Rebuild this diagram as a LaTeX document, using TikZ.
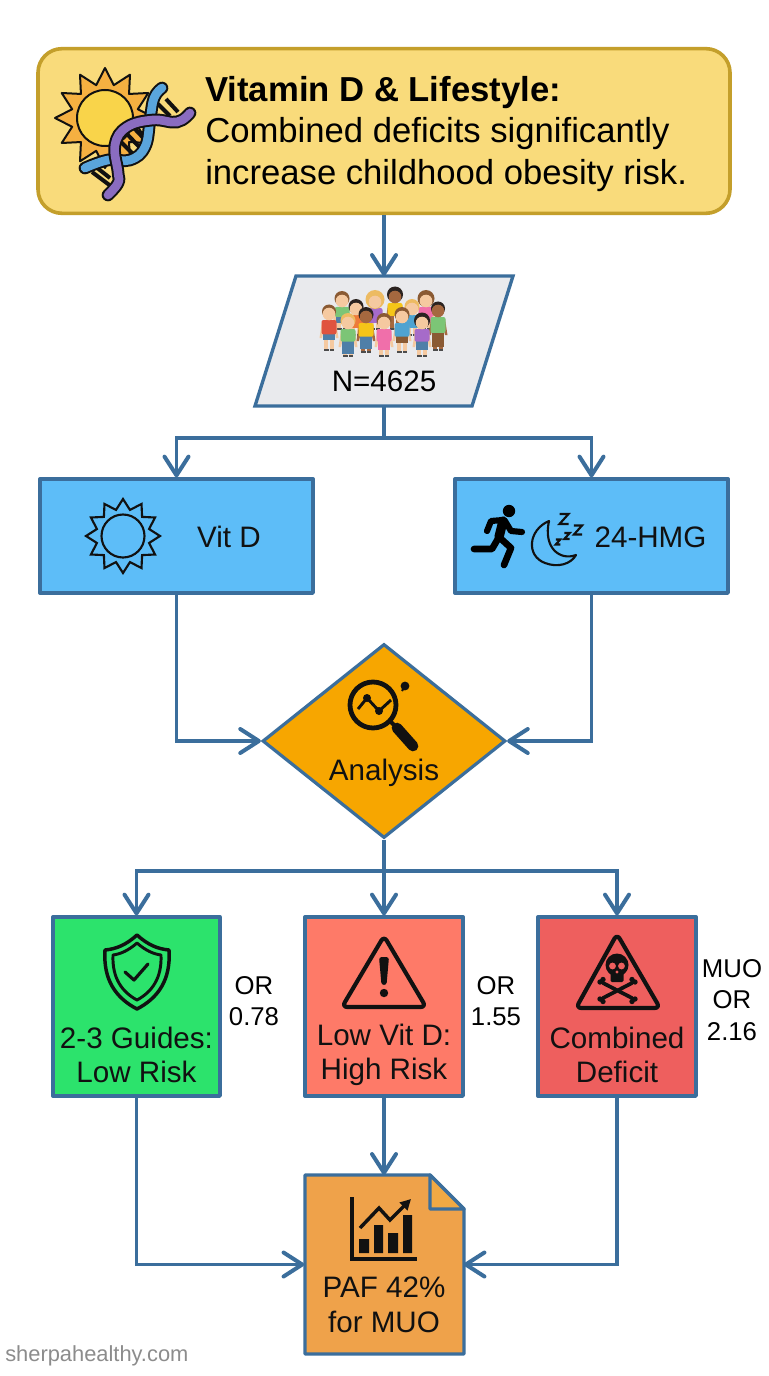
\documentclass[tikz,border=0pt]{standalone}
\usepackage{fontspec}
\setmainfont{Liberation Sans}
\usetikzlibrary{arrows.meta,shapes.geometric,calc}
\definecolor{edge}{HTML}{3B6E9C}
\definecolor{ink}{HTML}{111111}
\definecolor{titlefill}{HTML}{F9DB7B}
\definecolor{titleedge}{HTML}{C49F2B}
\definecolor{skyfill}{HTML}{5DBDF8}
\definecolor{greenbox}{HTML}{2CE36C}
\definecolor{redbox}{HTML}{FE7A68}
\definecolor{deepred}{HTML}{EE5F5E}
\definecolor{docfill}{HTML}{EFA24A}
\definecolor{amber}{HTML}{F7A600}
\definecolor{popfill}{HTML}{E9EAED}
\definecolor{sunray}{HTML}{F5B041}
\definecolor{suncore}{HTML}{F9D44A}
\definecolor{strandb}{HTML}{5AA5DC}
\definecolor{strandp}{HTML}{8A6CC0}
\definecolor{skin}{HTML}{F5C9A0}
\definecolor{skind}{HTML}{A5683F}
\definecolor{hbrown}{HTML}{8A5A33}
\definecolor{hblond}{HTML}{EDBB62}
\definecolor{hdark}{HTML}{2B2320}
\definecolor{kgreen}{HTML}{7CC576}
\definecolor{kred}{HTML}{E0533F}
\definecolor{kblue}{HTML}{4FA3D1}
\definecolor{kjean}{HTML}{4F7FA8}
\definecolor{kyellow}{HTML}{F5C518}
\definecolor{kpink}{HTML}{F06FAA}
\definecolor{kpurple}{HTML}{A66BC9}
\definecolor{korange}{HTML}{EE7B3A}
\tikzset{
 x=0.75pt,y=-0.75pt,
 box/.style={draw=edge,line width=2.5pt,rectangle,inner sep=0pt,line join=round},
 conn/.style={draw=edge,line width=2.6pt},
 arr/.style={conn,-{Straight Barb[length=14pt,width=18pt,line width=3pt,round]}},
 lab/.style={font=\fontsize{22.2}{26}\selectfont,align=center,text=ink,inner sep=0pt},
 side/.style={font=\fontsize{19.3}{23.5}\selectfont,align=center,text=black,inner sep=0pt},
 ic/.style={draw=ink,line width=3pt,line cap=round,line join=round},
}
\newcommand{\kid}[9]{% x, headY, feetY, skin, hair, shirt, lower, hair radius, lower extent
 \begin{scope}[shift={(#1,0)}]
  \fill[#4] (-7,#2+9) -- (-9.5,#2+25) -- (-7,#2+25) -- (-4,#2+11) -- cycle;
  \fill[#4] (7,#2+9) -- (9.5,#2+25) -- (7,#2+25) -- (4,#2+11) -- cycle;
  \fill[#4] (-5,#2+20) rectangle (-1,#3-2);
  \fill[#4] (1,#2+20) rectangle (5,#3-2);
  \fill[#7] (-6,{#2+(#3-#2)*0.5}) rectangle (6,{#2+(#3-#2)*#9});
  \fill[#6,rounded corners=1.5pt] (-7.5,#2+7) rectangle (7.5,{#2+(#3-#2)*0.56});
  \fill[black!70] (-5,#3-2) rectangle (-.5,#3);
  \fill[black!70] (.5,#3-2) rectangle (5,#3);
  \fill[#5] (0,#2-1.5) circle[radius=#8];
  \fill[#4] (0,#2+1) circle[radius=6.3];
 \end{scope}}
\begin{document}
\begin{tikzpicture}
\useasboundingbox (0,0) rectangle (768,1376);
\fill[white] (0,0) rectangle (768,1376);

% ---------- title
\node[draw=titleedge,fill=titlefill,line width=2.7pt,rounded corners=18pt,rectangle,minimum width=519pt,minimum height=123.5pt,inner sep=0pt] (title) at (384,131) {};
\node[anchor=west,inner sep=0pt,align=left,font=\fontsize{26}{31}\selectfont,text=black] (titletext) at (205,134) {\textbf{Vitamin D \& Lifestyle:}\\Combined deficits significantly\\increase childhood obesity risk.};
% sun
\begin{scope}[shift={(105,118)}]
 \draw[ink,fill=sunray,line width=1.5pt,line join=round]
  plot[samples at={0,1,...,23},variable=\i] ({(mod(\i,2)==0?50:34)*cos(\i*15)},{(mod(\i,2)==0?50:34)*sin(\i*15)}) -- cycle;
 \draw[ink,fill=suncore,line width=1.5pt] (0,0) circle[radius=28];
\end{scope}
% dna rungs
\foreach \a/\b/\c/\d in {158/104/170/116, 166/99/178/112, 127/134/144/152, 121/142/137/158, 133/127/151/146, 92/172/112/187, 96/167/110/178}{
 \draw[ink,line width=3pt] (\a,\b) -- (\c,\d);}
\draw[ink,line width=9.5pt,line cap=round] plot[smooth,tension=.7] coordinates {(162,88) (154,98) (150,120) (145,147) (130,160) (108,160) (85,168)};
\draw[strandb,line width=6.5pt,line cap=round] plot[smooth,tension=.7] coordinates {(162,88) (154,98) (150,120) (145,147) (130,160) (108,160) (85,168)};
\draw[ink,line width=9.5pt,line cap=round] plot[smooth,tension=.7] coordinates {(190,113) (177,122) (153,120) (127,127) (115,145) (118,172) (118,183) (108,195)};
\draw[strandp,line width=6.5pt,line cap=round] plot[smooth,tension=.7] coordinates {(190,113) (177,122) (153,120) (127,127) (115,145) (118,172) (118,183) (108,195)};

% ---------- population
\node[rectangle,minimum width=162.75pt,minimum height=97.5pt,inner sep=0pt] (pop) at (384,341) {};
\draw[fill=popfill,draw=edge,line width=2.5pt,line join=miter] (296,276) -- (513,276) -- (472,406) -- (255,406) -- cycle;
\begin{scope}[shift={(250,270)}]
 % back row
 \kid{92}{30}{60}{skin}{hbrown}{kgreen}{kjean}{7.5}{.75}
 \kid{125}{31}{60}{skin}{hblond}{kpurple}{kpurple}{9.5}{.75}
 \kid{145}{26}{60}{skind}{hdark}{kyellow}{kyellow}{8}{.6}
 \kid{176}{30}{60}{skin}{hbrown}{kpink}{kpink}{8.5}{.75}
 \kid{162}{38}{66}{skin}{hblond}{kblue}{kblue}{7.5}{.7}
 \kid{106}{38}{66}{skin}{hdark}{korange}{korange}{7.5}{.7}
 % front row
 \kid{79}{43}{81}{skin}{hbrown}{kred}{kjean}{7}{.72}
 \kid{188}{40}{81}{skind}{hdark}{kgreen}{hbrown}{7}{.9}
 \kid{98}{52}{87}{skin}{hblond}{kgreen}{kjean}{7.5}{.92}
 \kid{116}{46}{83}{skind}{hdark}{kyellow}{kjean}{7.5}{.9}
 \kid{134}{52}{87}{skin}{hbrown}{kpink}{kpink}{7.5}{.8}
 \kid{152}{46}{83}{skin}{hbrown}{kblue}{hbrown}{7.5}{.72}
 \kid{172}{52}{87}{skin}{hdark}{kpurple}{kjean}{8}{.8}
\end{scope}
\node[lab,text=black] (popt) at (384,381) {N=4625};

% ---------- vit D and 24-HMG
\node[box,fill=skyfill,minimum width=204.75pt,minimum height=85.5pt] (vit) at (176.5,536) {};
\node[box,fill=skyfill,minimum width=204.75pt,minimum height=85.5pt] (hmg) at (591.5,536) {};
\node[lab] (vitt) at (229,537) {Vit D};
\node[lab] (hmgt) at (650.5,537) {24-HMG};
\begin{scope}[shift={(123,536)}]
 \draw[ink,line width=1.6pt,line join=miter]
  plot[samples at={0,1,...,23},variable=\i] ({(mod(\i,2)==0?37:27)*cos(\i*15-90)},{(mod(\i,2)==0?37:27)*sin(\i*15-90)}) -- cycle;
 \draw[ink,line width=1.6pt] (0,0) circle[radius=21.5];
\end{scope}
% runner
\fill[black] (509,511) circle[radius=6.2];
\draw[black,line width=7pt,line cap=round,line join=round] (503,521) -- (499,537);
\draw[black,line width=4.6pt,line cap=round,line join=round] (503,520) -- (491,521) -- (487,531);
\draw[black,line width=4.6pt,line cap=round,line join=round] (505,521) -- (511,531) -- (522,532);
\draw[black,line width=5pt,line cap=round,line join=round] (499,537) -- (511,548) -- (504,565);
\draw[black,line width=5pt,line cap=round,line join=round] (499,537) -- (492,549) -- (474,549);
% moon
\draw[ink,line width=1.6pt,line join=round] (549,521) .. controls (528,530) and (526,556) .. (545,563) .. controls (558,568) and (571,564) .. (576,555) .. controls (560,561) and (543,548) .. (549,521) -- cycle;
\foreach \x/\y/\s in {564/519/10,578/530/9,567/536/6,558/542/5}{
 \draw[ink,line width=1.6pt,line join=miter] (\x-\s*.45,\y-\s*.5) -- (\x+\s*.45,\y-\s*.5) -- (\x-\s*.45,\y+\s*.5) -- (\x+\s*.45,\y+\s*.5);}

% ---------- analysis
\node[draw=edge,fill=amber,line width=2.4pt,diamond,aspect=1.25,inner sep=0pt,minimum width=182.25pt,minimum height=145.5pt] (ana) at (384,741) {};
\node[lab] (anat) at (384,773) {Analysis};
\draw[ink,line width=3.6pt] (373,705) circle[radius=23];
\draw[ink,line width=8pt,line cap=round] (397,728) -- (413,746);
\draw[ink,line width=3pt] (390,721) -- (399,730);
\draw[ink,line width=2.2pt,line join=round] (358,709) -- (367,698) -- (379,711) -- (391,700);
\fill[ink] (367,698) circle[radius=4] (379,711) circle[radius=4];
\fill[ink] (405,686) circle[radius=4.4];
\draw[ink,line width=1.5pt] (405,686) -- (402,691);

% ---------- outcomes
\node[box,fill=greenbox,minimum width=125.25pt,minimum height=134.25pt] (low) at (136.5,1006.5) {};
\node[box,fill=redbox,minimum width=118.5pt,minimum height=134.25pt] (high) at (384,1006.5) {};
\node[box,fill=deepred,minimum width=118.5pt,minimum height=134.25pt] (comb) at (617,1006.5) {};
\node[lab] (lowt) at (136.5,1055) {2-3 Guides:\\Low Risk};
\node[lab] (hight) at (384,1055) {Low Vit D:\\High Risk};
\node[lab] (combt) at (617,1055) {Combined\\Deficit};
\node[side] (orlow) at (254,1001) {OR\\0.78};
\node[side] (orhigh) at (496,1001) {OR\\1.55};
\node[side] (ormuo) at (732,1000) {MUO\\OR\\2.16};
% shield
\draw[ic,line width=2.6pt] (137,935) .. controls (126,945) and (116,949) .. (105,950) .. controls (103,980) and (116,998) .. (137,1009) .. controls (158,998) and (171,980) .. (169,950) .. controls (158,949) and (148,945) .. (137,935) -- cycle;
\draw[ic,line width=2.2pt] (137,943) .. controls (129,950) and (121,954) .. (113,955) .. controls (112,978) and (122,992) .. (137,1000) .. controls (152,992) and (162,978) .. (161,955) .. controls (153,954) and (145,950) .. (137,943) -- cycle;
\draw[ic,line width=2.4pt] (125,972) -- (134,980) -- (148,964);
% warning
\draw[ic,line width=3.1pt,rounded corners=4pt] (384,936) -- (342,1007) -- (426,1007) -- cycle;
\fill[ink,rounded corners=2pt] (379,957) -- (389,957) -- (386.5,985) -- (381.5,985) -- cycle;
\fill[ink] (384,993) circle[radius=4.2];
% skull
\draw[ic,line width=3.1pt,rounded corners=4pt] (617,934) -- (576,1008) -- (660,1008) -- cycle;
\fill[ink] (617,965) ellipse[x radius=11.5,y radius=11.5];
\fill[ink,rounded corners=1pt] (610.5,970) rectangle (623.5,982);
\fill[deepred] (612.5,966) circle[radius=3.4] (621.5,966) circle[radius=3.4];
\fill[deepred] (617,972) circle[radius=1.6];
\draw[ink,line width=2.8pt,line cap=round] (603,983) -- (632,998);
\draw[ink,line width=2.8pt,line cap=round] (632,983) -- (603,998);
\fill[ink] (600,982) circle[radius=2.7] (603,979.5) circle[radius=2.7] (635,982) circle[radius=2.7] (632,979.5) circle[radius=2.7];
\fill[ink] (600,999) circle[radius=2.7] (603,1001.5) circle[radius=2.7] (635,999) circle[radius=2.7] (632,1001.5) circle[radius=2.7];

% ---------- document
\node[rectangle,minimum width=119.25pt,minimum height=134.25pt,inner sep=0pt] (paf) at (384,1264.5) {};
\draw[fill=docfill,draw=edge,line width=2.5pt,line join=round] (305,1175) -- (430,1175) -- (464,1209) -- (464,1354) -- (305,1354) -- cycle;
\draw[draw=edge,line width=2.5pt,line join=round,fill=docfill!92!yellow] (430,1175) -- (430,1209) -- (464,1209) -- cycle;
\node[lab] (paft) at (384,1305) {PAF 42\%\\for MUO};
\draw[ink,line width=2.6pt,line cap=butt] (352,1197) -- (352,1259) -- (417,1259);
\fill[ink] (359,1239) rectangle (369,1253) (374,1225) rectangle (383,1253) (388,1233) rectangle (398,1253) (403,1215) rectangle (412,1253);
\draw[ink,line width=2.6pt,line join=miter,-{Triangle[length=8pt,width=8pt]}] (360,1228) -- (379,1208) -- (390,1220) -- (411,1199);

% ---------- connectors
\coordinate (j1) at (384,438);
\coordinate (j2) at (384,871);
\draw[arr] (title.south) -- (pop.north);
\draw[conn] (pop.south) -- (j1);
\draw[arr] (j1) -| (vit.north);
\draw[arr] (j1) -| (hmg.north);
\draw[arr] (vit.south) |- (ana.west);
\draw[arr] (hmg.south) |- (ana.east);
\draw[conn] (ana.south) -- (j2);
\draw[arr] (j2) -| (low.north);
\draw[arr] (j2) -- (high.north);
\draw[arr] (j2) -| (comb.north);
\draw[arr] (low.south) |- (paf.west);
\draw[arr] (high.south) -- (paf.north);
\draw[arr] (comb.south) |- (paf.east);

\node[anchor=west,inner sep=0pt,font=\fontsize{16.4}{18}\selectfont,text=black!45] (mark) at (5,1356) {sherpahealthy.com};
\end{tikzpicture}
\end{document}
